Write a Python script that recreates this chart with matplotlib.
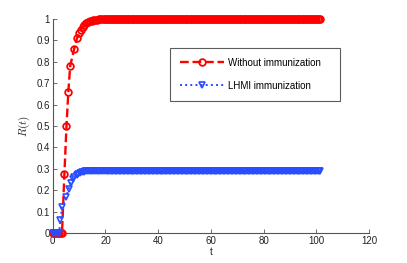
import matplotlib
matplotlib.use("Agg")
import matplotlib.pyplot as plt

plt.rcParams['font.family'] = ['Liberation Sans', 'DejaVu Sans']
plt.rcParams['mathtext.fontset'] = 'cm'

# plateau time grid (solver output is dense after t=20)
t_tail = [x / 2 for x in range(41, 204)]

# Without immunization
t_red = [0, 0.5, 1, 1.5, 2, 2.5, 3, 3.5, 4.4, 5.2, 5.9, 6.6, 8.1, 9.2, 10, 10.7, 11.4, 12,
         12.7, 13.4, 14, 14.7, 15.4, 16, 16.7, 17.4, 18, 18.7, 19.4, 20] + t_tail
r_red = [0, 0, 0, 0, 0, 0, 0, 0, 0.275, 0.5, 0.66, 0.78, 0.86, 0.91, 0.935, 0.95, 0.963,
         0.972, 0.979, 0.985, 0.989, 0.992, 0.994, 0.996, 0.997, 0.998, 0.999, 0.999,
         1.0, 1.0] + [1.0] * len(t_tail)

# LHMI immunization
t_blue = [0, 0.5, 1, 1.5, 2, 2.4, 2.9, 3.5, 5.0, 6.0, 6.8, 7.5, 8.2, 9, 9.7, 10.4, 11,
          11.7, 12.4, 13, 13.7, 14.4, 15, 15.7, 16.4, 17, 17.7, 18.4, 19, 20] + t_tail
r_blue = [0, 0, 0, 0, 0, 0, 0.06, 0.12, 0.167, 0.206, 0.232, 0.25, 0.262, 0.272, 0.277,
          0.281, 0.284, 0.286, 0.288, 0.289, 0.29, 0.29, 0.291, 0.291, 0.292, 0.292,
          0.292, 0.292, 0.292, 0.292] + [0.292] * len(t_tail)

xticks = [0, 20, 40, 60, 80, 100, 120]
yticks = [0, 0.1, 0.2, 0.3, 0.4, 0.5, 0.6, 0.7, 0.8, 0.9, 1]
ytick_labels = ["0", "0.1", "0.2", "0.3", "0.4", "0.5", "0.6", "0.7", "0.8", "0.9", "1"]

fig = plt.figure(figsize=(4.07, 2.63), dpi=100)
ax = fig.add_axes([0.1297, 0.1141, 0.7769, 0.8137])

ax.plot(t_red, r_red, linestyle="--", color="red", linewidth=1.7, marker="o",
        markersize=4.8, markerfacecolor="none", markeredgewidth=1.3,
        label="Without immunization", clip_on=False)
ax.plot(t_blue, r_blue, linestyle=":", color="#2a4dff", linewidth=1.4, marker="v",
        markersize=5.0, markerfacecolor="none", markeredgewidth=1.2,
        label="LHMI immunization", clip_on=False)

ax.set_xlim(0, 120)
ax.set_ylim(0, 1)
ax.set_xticks(xticks)
ax.set_yticks(yticks)
ax.set_yticklabels(ytick_labels)
for s in ["top", "right"]:
    ax.spines[s].set_visible(False)
for s in ["left", "bottom"]:
    ax.spines[s].set_color("#555555")
    ax.spines[s].set_linewidth(0.8)
ax.tick_params(direction="in", length=3, width=0.6, colors="#555555",
               labelcolor="#222222", labelsize=7, pad=2)

ax.set_xlabel("t", fontsize=7, labelpad=1, color="#222222")
ax.set_ylabel("$R(t)$", fontsize=8, labelpad=3, color="#222222")

leg = ax.legend(loc="upper left", bbox_to_anchor=(0.3707, 0.6215, 0.5376, 0.243),
                mode="expand", fontsize=7.0,
                frameon=True, fancybox=False, edgecolor="#333333",
                borderpad=1.0, labelspacing=1.35, handlelength=4.6,
                handletextpad=0.35, borderaxespad=0)
leg.get_frame().set_linewidth(0.8)

fig.savefig("out.png", dpi=100)
